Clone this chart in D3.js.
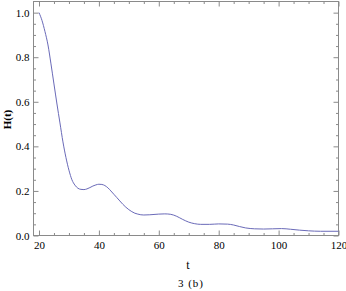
<!DOCTYPE html>
<html>
<head>
<meta charset="utf-8">
<script src="https://cdn.jsdelivr.net/npm/d3@7"></script>
<style>
  body { margin: 0; background: #fff; }
  svg { display: block; }
  svg text { font-family: "Liberation Serif", "Times New Roman", "DejaVu Serif", serif; }
  .tick text { font-size: 11px; fill: #000; }
  .domain { stroke: none; }
  .tick line { stroke: #8a8a8a; }
</style>
</head>
<body>
<script>
// H(t) values
const T_VALUES = [20, 21, 22, 23, 24, 25, 26, 27, 28, 29, 30, 31, 32, 33, 34, 35, 36, 37, 38, 39,
  40, 41, 42, 43, 44, 45, 46, 47, 48, 49, 50, 51, 52, 53, 54, 55, 57, 60, 62, 64,
  66, 68, 70, 72, 74, 77, 80, 83, 85, 87, 89, 92, 95, 98, 101, 104, 107, 110, 114, 120];
const H_VALUES = [1.0, 0.965, 0.915, 0.855, 0.77, 0.68, 0.59, 0.505, 0.42, 0.35, 0.293, 0.25, 0.226, 0.212, 0.207, 0.206, 0.209, 0.215, 0.222, 0.227,
  0.230, 0.229, 0.224, 0.214, 0.200, 0.185, 0.170, 0.155, 0.140, 0.127, 0.116, 0.107, 0.100, 0.096, 0.093, 0.092, 0.093, 0.096, 0.097, 0.095,
  0.086, 0.072, 0.060, 0.053, 0.050, 0.050, 0.052, 0.051, 0.047, 0.040, 0.034, 0.030, 0.029, 0.030, 0.031, 0.028, 0.024, 0.021, 0.019, 0.019];

const X_MAJOR = [20, 40, 60, 80, 100, 120];
const X_MINOR = [25, 30, 35, 45, 50, 55, 65, 70, 75, 85, 90, 95, 105, 110, 115];
const Y_MAJOR = [0.0, 0.2, 0.4, 0.6, 0.8, 1.0];
const Y_MINOR = [0.05, 0.1, 0.15, 0.25, 0.3, 0.35, 0.45, 0.5, 0.55, 0.65, 0.7, 0.75, 0.85, 0.9, 0.95];

const X_LABEL = 't';
const Y_LABEL = 'H(t)';
const CAPTION = '3 (b)';

const W = 346, H = 291;
const pLeft = 33.5, pRight = 338.5, pTop = 1.5, pBottom = 235.5;

const svg = d3.select('body').append('svg')
  .attr('width', W)
  .attr('height', H);

const x = d3.scaleLinear().domain([18, 120]).range([pLeft - 0.5, pRight]);
const y = d3.scaleLinear().domain([0, 1.05]).range([pBottom, pTop]);

const data = T_VALUES.map((t, i) => ({ t: t, h: H_VALUES[i] }));

// frame
svg.append('rect')
  .attr('x', pLeft).attr('y', pTop)
  .attr('width', pRight - pLeft).attr('height', pBottom - pTop)
  .attr('fill', 'none')
  .attr('stroke', '#8a8a8a')
  .attr('stroke-width', 1);

// axes: major + minor on all four sides, ticks inward
function addAxis(axis, tx, ty) {
  const g = svg.append('g').attr('transform', `translate(${tx},${ty})`).call(axis);
  g.attr('font-family', null);
  return g;
}
const noLabel = () => '';

addAxis(d3.axisBottom(x).tickValues(X_MAJOR).tickSize(-5).tickPadding(6).tickFormat(d3.format('d')), 0, pBottom);
addAxis(d3.axisBottom(x).tickValues(X_MINOR).tickSize(-2.5).tickFormat(noLabel), 0, pBottom);
addAxis(d3.axisTop(x).tickValues(X_MAJOR).tickSize(-5).tickFormat(noLabel), 0, pTop);
addAxis(d3.axisTop(x).tickValues(X_MINOR).tickSize(-2.5).tickFormat(noLabel), 0, pTop);

addAxis(d3.axisLeft(y).tickValues(Y_MAJOR).tickSize(-5).tickPadding(4).tickFormat(d3.format('.1f')), pLeft, 0);
addAxis(d3.axisLeft(y).tickValues(Y_MINOR).tickSize(-2.5).tickFormat(noLabel), pLeft, 0);
addAxis(d3.axisRight(y).tickValues(Y_MAJOR).tickSize(-5).tickFormat(noLabel), pRight, 0);
addAxis(d3.axisRight(y).tickValues(Y_MINOR).tickSize(-2.5).tickFormat(noLabel), pRight, 0);

// curve
const line = d3.line()
  .x(d => x(d.t))
  .y(d => y(d.h))
  .curve(d3.curveMonotoneX);

svg.append('path')
  .datum(data)
  .attr('d', line)
  .attr('fill', 'none')
  .attr('stroke', '#6a6ab8')
  .attr('stroke-width', 1);

// labels
svg.append('text')
  .attr('x', (pLeft + pRight) / 2 + 2)
  .attr('y', 269)
  .attr('text-anchor', 'middle')
  .style('font-size', '12px')
  .text(X_LABEL);

svg.append('text')
  .attr('transform', `translate(11,${(pTop + pBottom) / 2 + 1}) rotate(-90)`)
  .attr('text-anchor', 'middle')
  .style('font-size', '11px')
  .style('font-weight', 'bold')
  .text(Y_LABEL);

svg.append('text')
  .attr('x', 191)
  .attr('y', 287)
  .attr('text-anchor', 'middle')
  .style('font-size', '11px')
  .style('letter-spacing', '1px')
  .text(CAPTION);
</script>
</body>
</html>
